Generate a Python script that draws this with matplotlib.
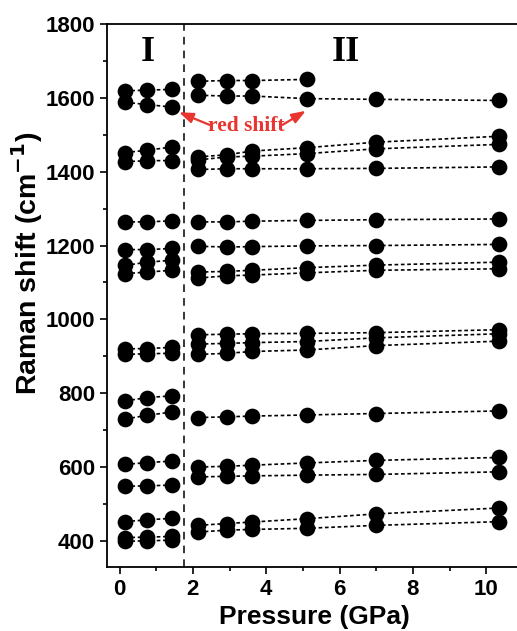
import numpy as np
import matplotlib
matplotlib.use('Agg')
import matplotlib.pyplot as plt
from matplotlib.ticker import MultipleLocator

plt.rcParams['font.family'] = 'Liberation Sans'
plt.rcParams['font.weight'] = 'bold'
plt.rcParams['mathtext.default'] = 'bf'

# pressures (GPa) for the two phases
p_phase1 = [0.15, 0.75, 1.43]
p_phase2 = [2.15, 2.93, 3.62, 5.1, 7.0, 10.35]

# Raman modes (cm^-1), phase I
modes_phase1 = [
    [1619, 1621, 1623],
    [1588, 1582, 1575],
    [1452, 1458, 1467],
    [1427, 1430, 1430],
    [1264, 1264, 1267],
    [1189, 1189, 1192],
    [1146, 1155, 1160],
    [1124, 1128, 1133],
    [920, 921, 924],
    [905, 907, 908],
    [779, 788, 793],
    [730, 740, 749],
    [607, 612, 616],
    [548, 549, 551],
    [452, 457, 461],
    [409, 410, 412],
    [399, 400, 402],
]

# Raman modes (cm^-1), phase II, seen only up to 5.1 GPa
modes_phase2_short = [
    [1645, 1647, 1647, 1650],
]
# Raman modes (cm^-1), phase II, full pressure range
modes_phase2 = [
    [1607, 1605, 1605, 1598, 1596, 1593],
    [1440, 1446, 1456, 1465, 1480, 1496],
    [1432, 1440, 1442, 1449, 1462, 1474],
    [1406, 1408, 1408, 1408, 1409, 1413],
    [1264, 1264, 1266, 1268, 1270, 1272],
    [1198, 1196, 1197, 1199, 1200, 1203],
    [1128, 1130, 1133, 1140, 1147, 1155],
    [1112, 1118, 1120, 1126, 1133, 1137],
    [958, 960, 961, 962, 964, 972],
    [933, 935, 937, 940, 950, 961],
    [905, 908, 913, 917, 929, 941],
    [734, 736, 738, 741, 745, 752],
    [600, 602, 605, 611, 618, 626],
    [573, 575, 576, 578, 580, 587],
    [442, 447, 451, 460, 473, 489],
    [424, 429, 431, 434, 442, 452],
]

boundary = 1.77

fig = plt.figure(figsize=(5.17, 6.31), dpi=100)
ax = fig.add_axes([0.2064, 0.1019, 0.805, 0.860])

style = dict(color='black', marker='o', markersize=10.3, linestyle=(0, (2.2, 1.6)),
             linewidth=1.2, clip_on=False)
for ys in modes_phase1:
    ax.plot(p_phase1, ys, **style)
for ys in modes_phase2_short:
    ax.plot(p_phase2[:len(ys)], ys, **style)
for ys in modes_phase2:
    ax.plot(p_phase2, ys, **style)

ax.axvline(boundary, color='black', linestyle=(0, (5, 4)), linewidth=1.1)

ax.text(0.77, 1722, 'I', fontsize=26, fontweight='bold', family='Liberation Serif',
        ha='center', va='center')
ax.text(6.18, 1722, 'II', fontsize=26, fontweight='bold', family='Liberation Serif',
        ha='center', va='center')

red = '#e8352f'
ax.text(3.45, 1525, 'red shift', color=red, fontsize=15.5, fontweight='bold',
        family='Liberation Serif', ha='center', va='center')
arrow = dict(arrowstyle='-|>,head_length=0.6,head_width=0.22', color=red, lw=1.6,
             mutation_scale=14, shrinkA=0, shrinkB=0)
ax.annotate('', xy=(1.62, 1561), xytext=(2.45, 1527), arrowprops=arrow)
ax.annotate('', xy=(5.08, 1565), xytext=(4.45, 1527), arrowprops=arrow)

ax.set_xlim(-0.35, 11.0)
ax.set_ylim(330, 1800)
ax.xaxis.set_major_locator(MultipleLocator(2))
ax.xaxis.set_minor_locator(MultipleLocator(1))
ax.yaxis.set_major_locator(MultipleLocator(200))
ax.yaxis.set_minor_locator(MultipleLocator(100))
ax.tick_params(which='both', direction='out', width=1.2, labelsize=16)
ax.tick_params(which='major', length=5)
ax.tick_params(which='minor', length=3)
for lab in ax.get_xticklabels() + ax.get_yticklabels():
    lab.set_fontweight('bold')
for s in ax.spines.values():
    s.set_linewidth(1.3)

ax.set_xlabel('Pressure (GPa)', fontsize=19, fontweight='bold', labelpad=4)
ax.set_ylabel('Raman shift (cm$^{-1}$)', fontsize=20.5, fontweight='bold')
ax.yaxis.set_label_coords(-0.148, 0.56)

fig.savefig('out.png', dpi=100)
